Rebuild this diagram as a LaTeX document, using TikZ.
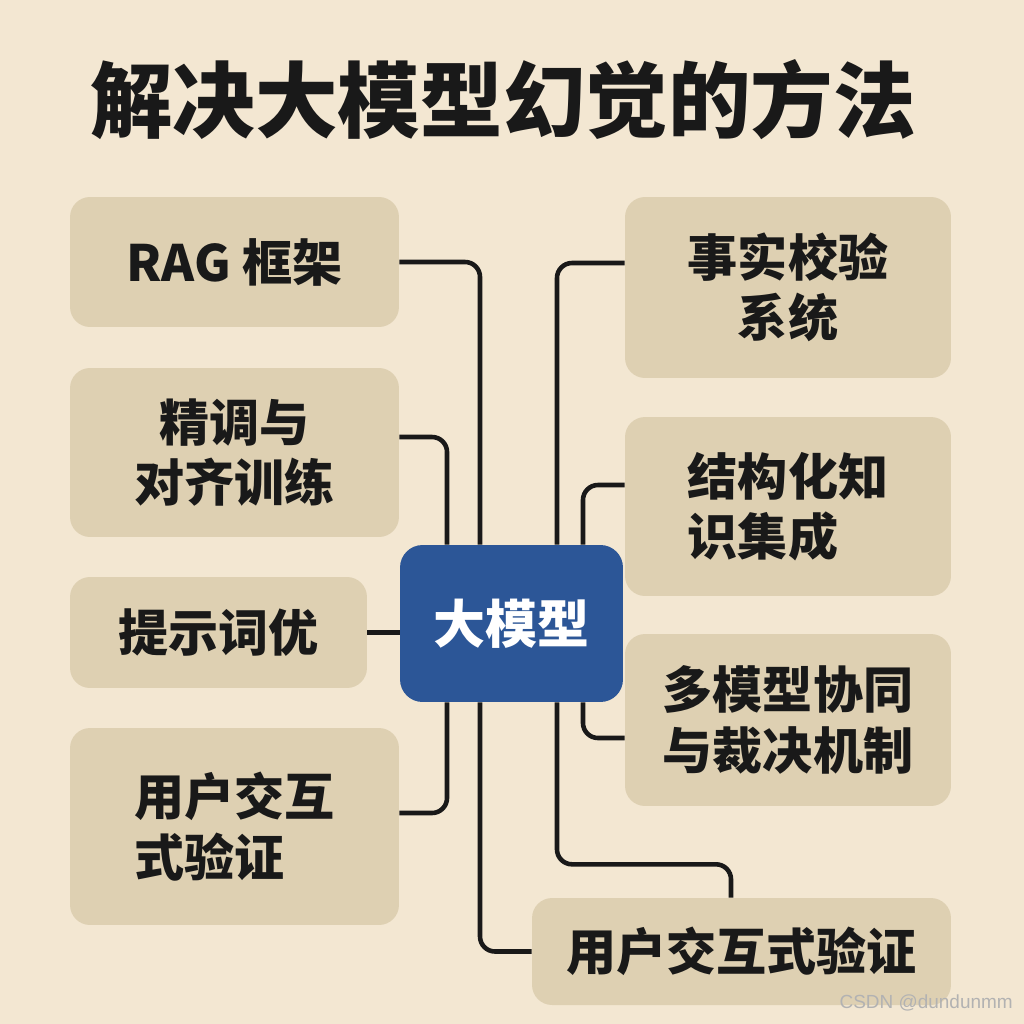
\documentclass[tikz,border=0pt]{standalone}
\usepackage{fontspec}
\setmainfont{Noto Sans CJK SC}
\newfontfamily\markfont{Liberation Sans}
\definecolor{papercolor}{HTML}{F3E7D2}
\definecolor{cardcolor}{HTML}{DED0B2}
\definecolor{corecolor}{HTML}{2C5697}
\colorlet{linkcolor}{black!90}
\tikzset{
  card/.style={
    fill=cardcolor,
    rounded corners=0.4cm,
    text=black!90,
    align=left,
    inner sep=0pt,
    font=\fontsize{28.5}{34.5}\selectfont\bfseries
  },
  core/.style={
    fill=corecolor,
    rounded corners=0.45cm,
    text=white,
    inner sep=0pt,
    font=\fontsize{29.6}{34}\selectfont\bfseries
  },
  link/.style={
    linkcolor,
    line width=2.6pt,
    rounded corners=0.3cm
  }
}

\begin{document}
\begin{tikzpicture}[x=0.02cm, y=-0.02cm]

  % Paper background fixes the page size.
  \fill[papercolor] (0,0) rectangle (1024,1024);
  \useasboundingbox (0,0) rectangle (1024,1024);

  % Title.
  \node[text=black!90, font=\fontsize{47}{50}\selectfont\bfseries] (title)
    at (503,100) {解决大模型幻觉的方法};

  % Central model.
  \node[core, minimum width=4.46cm, minimum height=3.14cm] (llm)
    at (511.5,623.5) {大模型};

  % Methods on the left.
  \node[card, minimum width=6.58cm, minimum height=2.60cm] (rag)
    at (234.5,262) {RAG 框架};
  \node[card, align=center, minimum width=6.58cm, minimum height=3.38cm] (tune)
    at (234.5,452.5) {精调与\\对齐训练};
  \node[card, minimum width=5.94cm, minimum height=2.22cm] (prompt)
    at (218.5,632.5) {提示词优};
  \node[card, minimum width=6.58cm, minimum height=3.94cm] (verify)
    at (234.5,826.5) {用户交互\\式验证};

  % Methods on the right.
  \node[card, align=center, minimum width=6.52cm, minimum height=3.62cm] (fact)
    at (788,287.5) {事实校验\\系统};
  \node[card, minimum width=6.52cm, minimum height=3.58cm] (struct)
    at (788,506.5) {结构化知\\识集成};
  \node[card, minimum width=6.52cm, minimum height=3.44cm] (multi)
    at (788,720) {多模型协同\\与裁决机制};
  \node[card, minimum width=8.38cm, minimum height=2.14cm] (final)
    at (741.5,951.5) {用户交互式验证};

  % Connectors into the central box.
  \draw[link] (rag.east) -| ([xshift=-0.63cm]llm.north);
  \draw[link] ([yshift=0.31cm]tune.east) -| ([xshift=-1.29cm]llm.north);
  \draw[link] (prompt.east) -- (prompt.east -| llm.west);
  \draw[link] ([xshift=-1.29cm]llm.south) |- ([yshift=0.27cm]verify.east);
  \draw[link] ([xshift=-0.63cm]llm.south) |- (final.west);

  \draw[link] ([xshift=0.91cm]llm.north) |- ([yshift=0.49cm]fact.west);
  \draw[link] ([xshift=1.43cm]llm.north) |- ([yshift=0.43cm]struct.west);
  \draw[link] ([xshift=1.43cm]llm.south) |- ([yshift=-0.36cm]multi.west);
  \draw[link] ([xshift=0.91cm]llm.south) -- ++(0,-3.24cm)
    -| ([xshift=-0.21cm]final.north);

  % Watermark.
  \node[anchor=east, text=black!30, font=\markfont\fontsize{10.8}{12}\selectfont]
    (mark) at (1019,1003) {CSDN @dundunmm};

\end{tikzpicture}
\end{document}
